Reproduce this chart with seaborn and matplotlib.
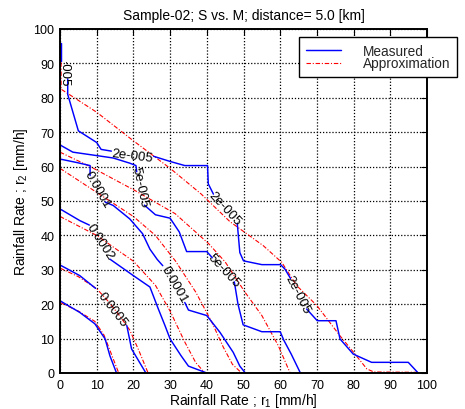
import numpy as np
import pandas as pd
import matplotlib
matplotlib.use("Agg")
import matplotlib.pyplot as plt
from matplotlib.lines import Line2D
from matplotlib.patches import Rectangle
import seaborn as sns

TITLE = "Sample-02; S vs. M; distance= 5.0 [km]"
X_LABEL = "Rainfall Rate ; r$_1$ [mm/h]"
Y_LABEL = "Rainfall Rate ; r$_2$ [mm/h]"
TICKS = list(range(0, 101, 10))
SERIES = ["Measured", "Approximation"]

# Measured contour lines (r1, r2); None opens a gap where the level label sits
meas_2e5_x = [0.2, 0.2, None, 2.1, 2.1, 5.0, 10.0, 11.2, 14.0, None, 25.5, 30.0, 34.0, 40.2, 40.4, 41.8,
              None, 48.3, 49.0, 50.0, 55.0, 60.1, 61.3, 62.8, None, 67.2, 70.1, 75.2, 76.3, 79.9, 84.9, 94.9, 97.6]
meas_2e5_y = [96.0, 90.8, None, 85.5, 81.0, 70.4, 67.0, 65.0, 64.5, None, 63.0, 61.5, 60.3, 60.3, 55.0, 52.0,
              None, 43.5, 35.0, 32.6, 31.5, 31.5, 30.2, 27.5, None, 18.6, 15.2, 15.2, 9.9, 5.5, 3.1, 3.1, 0.0]

meas_5e5_x = [0.0, 3.5, 10.0, 14.5, 19.0, 20.7, 20.9, None, 23.0, 26.0, 30.0, 32.5, 34.5, 40.0, 41.5,
              None, 47.5, 48.5, 49.9, 55.0, 60.0, 61.0, 63.0, 65.5]
meas_5e5_y = [66.3, 64.2, 63.2, 62.5, 61.0, 60.3, 58.5, None, 48.8, 46.0, 45.0, 41.0, 35.3, 35.3, 33.5,
              None, 26.5, 20.0, 14.0, 12.0, 12.0, 9.5, 5.5, 0.0]

meas_1e4_x = [0.0, 4.5, 8.2, 8.2, None, 12.3, 14.5, 19.0, 22.5, 24.5, 26.5, 28.0,
              None, 34.0, 35.0, 40.0, 43.6, 47.2, 49.0, 50.5]
meas_1e4_y = [62.2, 61.2, 60.3, 57.4, None, 49.7, 48.7, 44.8, 40.5, 36.0, 33.0, 31.2,
              None, 20.5, 18.3, 16.7, 11.8, 6.0, 2.0, 0.0]

meas_2e4_x = [0.0, 5.4, 8.0, None, 13.6, 20.0, 24.5, 26.8, 28.6, 30.0, 33.0, 35.0, 40.0]
meas_2e4_y = [47.7, 44.3, 43.0, None, 33.1, 28.3, 25.0, 18.6, 13.8, 9.9, 5.0, 2.0, 0.0]

meas_5e4_x = [0.0, 5.4, 9.7, None, 18.2, 19.5, 23.4]
meas_5e4_y = [31.4, 28.3, 24.6, None, 13.8, 7.0, 0.0]

meas_1e3_x = [0.0, 5.4, 9.5, 12.3, 13.6, 15.4]
meas_1e3_y = [21.0, 17.6, 14.3, 9.9, 5.0, 0.0]

# Approximation contour lines
appr_2e5_x = [0.3, 0.3, 10.0, 20.0, 30.0, 38.5, 46.3, 55.4, 60.4, 64.5, 70.0, 76.3, 80.0, 83.6, 85.5, 97.5]
appr_2e5_y = [95.6, 82.5, 75.8, 67.5, 59.5, 52.0, 44.0, 37.0, 32.2, 25.4, 19.6, 10.8, 6.0, 1.2, 0.3, 0.2]

appr_5e5_x = [0.0, 8.6, 20.5, 31.4, 40.5, 45.0, 50.4, 55.0, 59.5, 62.7]
appr_5e5_y = [64.2, 59.8, 53.0, 46.3, 37.6, 32.3, 23.5, 16.7, 7.9, 0.0]

appr_1e4_x = [0.0, 10.0, 20.0, 26.0, 31.5, 37.0, 41.5, 44.5, 47.0, 49.5]
appr_1e4_y = [59.5, 52.5, 45.5, 40.0, 32.5, 23.5, 14.5, 7.5, 2.5, 0.0]

appr_2e4_x = [0.0, 10.0, 20.0, 26.0, 30.0, 34.0, 37.0, 39.5]
appr_2e4_y = [45.5, 40.0, 32.5, 25.5, 18.0, 9.0, 3.0, 0.0]

appr_5e4_x = [0.0, 5.0, 10.0, 13.0, 16.0, 19.0, 21.5, 24.0]
appr_5e4_y = [30.5, 28.0, 24.5, 21.0, 17.0, 12.5, 6.5, 0.0]

appr_1e3_x = [0.0, 5.0, 9.5, 12.0, 14.0, 16.0]
appr_1e3_y = [20.5, 18.0, 15.0, 11.0, 5.5, 0.0]

# Contour level labels: text, r1, r2, angle
LABELS = [
    ("2e-005", 19.8, 63.3, -7),
    ("2e-005", 44.8, 48.0, -47),
    ("2e-005", 64.6, 22.8, -63),
    ("5e-005", 21.7, 54.3, -78),
    ("5e-005", 44.6, 30.0, -47),
    ("0.0001", 10.1, 53.4, -60),
    ("0.0001", 31.0, 25.8, -60),
    ("0.0002", 11.0, 38.2, -57),
    ("0.0005", 14.2, 18.6, -52),
]
EDGE_LABEL = ("2e-005", 1.1, 89.6, -90)


def to_frame(xs, ys):
    """Split a None-separated polyline into numbered pieces."""
    rows, seg = [], 0
    for x, y in zip(xs, ys):
        if x is None:
            seg += 1
            continue
        rows.append((x, y, seg))
    return pd.DataFrame(rows, columns=["r1", "r2", "seg"])


measured = [(meas_2e5_x, meas_2e5_y), (meas_5e5_x, meas_5e5_y), (meas_1e4_x, meas_1e4_y),
            (meas_2e4_x, meas_2e4_y), (meas_5e4_x, meas_5e4_y), (meas_1e3_x, meas_1e3_y)]
approx = [(appr_2e5_x, appr_2e5_y), (appr_5e5_x, appr_5e5_y), (appr_1e4_x, appr_1e4_y),
          (appr_2e4_x, appr_2e4_y), (appr_5e4_x, appr_5e4_y), (appr_1e3_x, appr_1e3_y)]

sns.set_theme(style="white")
plt.rcParams["font.family"] = ["Liberation Sans", "DejaVu Sans"]
plt.rcParams["mathtext.default"] = "regular"

fig = plt.figure(figsize=(4.65, 4.1), dpi=100)
ax = fig.add_axes([60 / 465, 1 - 374 / 410, 367 / 465, 344 / 410])

BLUE = "#0000ff"
RED = "#ff0000"
DASHDOT = (0, (4.0, 1.6, 1.0, 1.6))

for xs, ys in approx:
    sns.lineplot(data=to_frame(xs, ys), x="r1", y="r2", units="seg", estimator=None,
                 sort=False, color=RED, linewidth=0.8, linestyle=DASHDOT, ax=ax, legend=False)
for xs, ys in measured:
    sns.lineplot(data=to_frame(xs, ys), x="r1", y="r2", units="seg", estimator=None,
                 sort=False, color=BLUE, linewidth=1.05, ax=ax, legend=False)

for text, x, y, ang in LABELS:
    ax.text(x, y, text, rotation=ang, rotation_mode="anchor", ha="center", va="center",
            fontsize=9.5, color="black")

# label on the steep upper-left piece, partly hidden by the plot edge
text, x, y, ang = EDGE_LABEL
t = ax.text(x, y, text, rotation=ang, rotation_mode="anchor", ha="center", va="center",
            fontsize=9.5, color="black")
t.set_clip_path(Rectangle((0, 0), 100, 90.3, transform=ax.transData))
t.set_clip_on(True)

ax.set_xlim(0, 100)
ax.set_ylim(0, 100)
ax.set_xticks(TICKS)
ax.set_yticks(TICKS)
ax.set_xticklabels([str(v) for v in TICKS])
ax.set_yticklabels([str(v) for v in TICKS])
ax.tick_params(direction="in", length=4, width=0.8, top=True, right=True,
               labelsize=9, pad=4, colors="black")
ax.grid(True, color="black", linestyle=(0, (1, 1.5)), linewidth=0.9)
for sp in ax.spines.values():
    sp.set_color("black")
    sp.set_linewidth(1.4)

ax.set_xlabel(X_LABEL, fontsize=10, labelpad=0.3, color="black")
ax.set_ylabel(Y_LABEL, fontsize=10, labelpad=2.5, color="black")
ax.set_title(TITLE, fontsize=10, pad=7, color="black")

handles = [Line2D([], [], color=BLUE, linewidth=1.05),
           Line2D([], [], color=RED, linewidth=0.8, linestyle=DASHDOT)]
leg = ax.legend(handles, SERIES, loc="upper left", bbox_to_anchor=(299 / 465, 1 - 38 / 410),
                bbox_transform=fig.transFigure, fontsize=9.8, handlelength=2.6,
                handletextpad=1.6, borderpad=0.5, labelspacing=-0.1, borderaxespad=0,
                frameon=True, fancybox=False, framealpha=1)
leg.get_frame().set_edgecolor("black")
leg.get_frame().set_linewidth(1.0)
leg.set_zorder(10)

fig.savefig("out.png", dpi=100)
